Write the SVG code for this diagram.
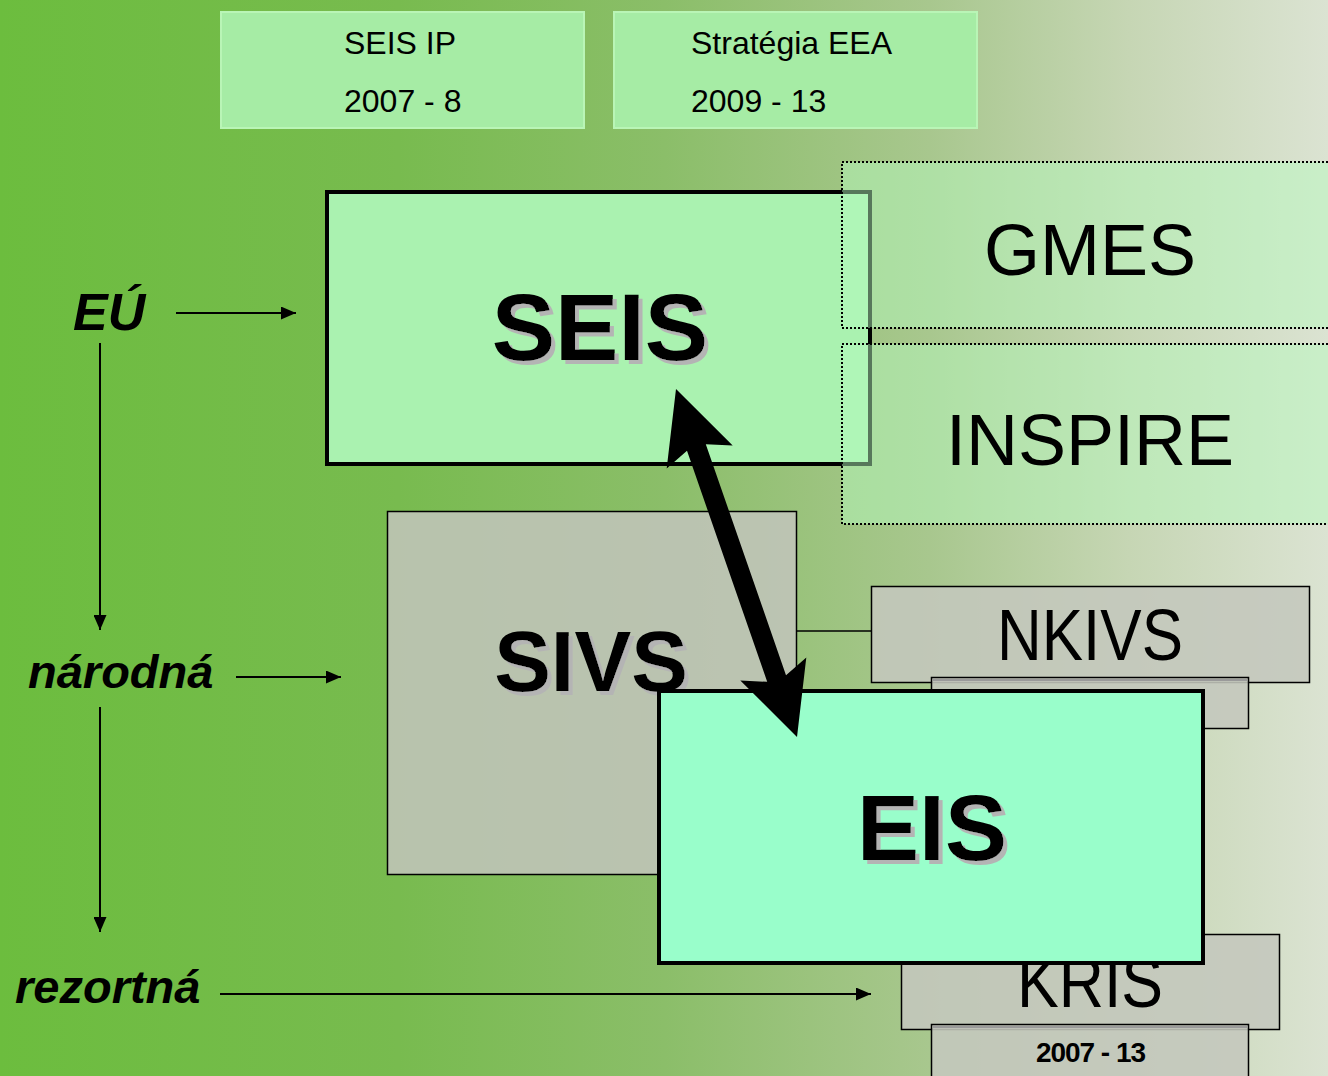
<svg xmlns="http://www.w3.org/2000/svg" width="1328" height="1076" viewBox="0 0 1328 1076">
<defs>
<linearGradient id="bg" x1="0" y1="0" x2="1" y2="0">
<stop offset="0" stop-color="#6cbd3e"/>
<stop offset="0.3" stop-color="#78bb4f"/>
<stop offset="0.5" stop-color="#8bbe69"/>
<stop offset="0.7" stop-color="#a8c78e"/>
<stop offset="0.85" stop-color="#c6d6b4"/>
<stop offset="1" stop-color="#dbe3d2"/>
</linearGradient>
<filter id="tsh" x="-10%" y="-10%" width="130%" height="130%">
<feOffset in="SourceAlpha" dx="4" dy="4" result="o"/>
<feFlood flood-color="#b4b4b4"/>
<feComposite in2="o" operator="in" result="s"/>
<feMerge><feMergeNode in="s"/><feMergeNode in="SourceGraphic"/></feMerge>
</filter>
<marker id="ah" viewBox="0 0 15 13" refX="15" refY="6.5" markerWidth="15" markerHeight="13" markerUnits="userSpaceOnUse" orient="auto">
<path d="M0,0 L15,6.5 L0,13 Z" fill="#000"/>
</marker>
<style>
.top{fill:#a6eca5;stroke:#b9f5b6;stroke-width:2}
.tt{font-family:"Liberation Sans",Arial,sans-serif;font-size:32px;fill:#000}
.over{fill:rgba(181,250,191,0.48);stroke:#000;stroke-width:2;stroke-dasharray:2 2}
.big{font-family:"Liberation Sans",Arial,sans-serif;font-size:72px;fill:#000;text-anchor:middle}
.gray{fill:rgba(196,199,189,0.88);stroke:#000;stroke-width:1.5}
.bold{font-family:"Liberation Sans",Arial,sans-serif;font-weight:bold;text-anchor:middle;fill:#000}
.shd{filter:url(#tsh)}
.lab{font-family:"Liberation Sans",Arial,sans-serif;font-weight:bold;font-style:italic;fill:#000}
.con{stroke:#000;stroke-width:2;fill:none}
</style>
</defs>
<rect width="1328" height="1076" fill="url(#bg)"/>

<g id="seis-ip">
<rect class="top" x="221" y="12" width="363" height="116"/>
<text class="tt" x="344" y="54">SEIS IP</text>
<text class="tt" x="344" y="112">2007 - 8</text>
</g>
<g id="strategia-eea">
<rect class="top" x="614" y="12" width="363" height="116"/>
<text class="tt" x="691" y="54">Stratégia EEA</text>
<text class="tt" x="691" y="112">2009 - 13</text>
</g>

<g id="seis">
<rect x="327" y="192" width="543" height="272" fill="#aaf2b0" stroke="#000" stroke-width="4"/>
<text class="bold shd" x="600" y="360" font-size="95">SEIS</text>
</g>

<g id="gmes">
<rect class="over" x="842" y="162" width="500" height="166"/>
<text class="big" x="1090" y="275">GMES</text>
</g>
<g id="inspire">
<rect class="over" x="842" y="344" width="500" height="180"/>
<text class="big" x="1090" y="465">INSPIRE</text>
</g>

<g id="sivs">
<rect x="387.5" y="511.5" width="409" height="363" fill="rgba(192,196,186,0.88)" stroke="#000" stroke-width="1.5"/>
<text class="bold shd" x="591" y="691" font-size="85">SIVS</text>
</g>

<g id="link">
<line x1="797" y1="631" x2="871" y2="631" stroke="#000" stroke-width="1.5"/>
</g>

<g id="nkivs">
<rect class="gray" x="871.5" y="586.5" width="438" height="96"/>
<text class="big" x="1090" y="660" font-size="62" textLength="186" lengthAdjust="spacingAndGlyphs">NKIVS</text>
</g>
<g id="nkivs-sub">
<rect class="gray" x="931.5" y="677.5" width="317" height="51"/>
<line x1="933" y1="680" x2="1247" y2="680" stroke="#9a9a9a" stroke-width="2"/>
</g>

<g id="kris">
<rect class="gray" x="901.5" y="934.5" width="378" height="95"/>
<text class="big" x="1090" y="1007" font-size="62" textLength="146" lengthAdjust="spacingAndGlyphs">KRIS</text>
</g>
<g id="kris-years">
<rect class="gray" x="931.5" y="1024.5" width="317" height="60"/>
<line x1="933" y1="1027" x2="1247" y2="1027" stroke="#9a9a9a" stroke-width="2"/>
<text class="bold" x="1091" y="1062" font-size="28" textLength="110" lengthAdjust="spacing">2007 - 13</text>
</g>

<g id="eis">
<rect x="661" y="693" width="544" height="272" fill="#333" opacity="0.5"/>
<rect x="659" y="691" width="544" height="272" fill="#99fecb" stroke="#000" stroke-width="4"/>
<text class="bold shd" x="932" y="860" font-size="93">EIS</text>
</g>

<g id="connectors">
<polygon points="676,389 732.7,445.5 705.8,444.2 786,675.2 806.3,657.5 797,737 740.3,680.5 767.2,681.8 687,450.8 666.7,468.5" fill="#000"/>
<line class="con" x1="176" y1="313" x2="296" y2="313" marker-end="url(#ah)"/>
<line class="con" x1="100" y1="343" x2="100" y2="630" marker-end="url(#ah)"/>
<line class="con" x1="236" y1="677" x2="341" y2="677" marker-end="url(#ah)"/>
<line class="con" x1="100" y1="707" x2="100" y2="932" marker-end="url(#ah)"/>
<line class="con" x1="220" y1="994" x2="871" y2="994" marker-end="url(#ah)"/>
</g>

<g id="labels">
<text class="lab" x="73" y="330" font-size="52">EÚ</text>
<text class="lab" x="28" y="688" font-size="47">národná</text>
<text class="lab" x="15" y="1003" font-size="47">rezortná</text>
</g>
</svg>
